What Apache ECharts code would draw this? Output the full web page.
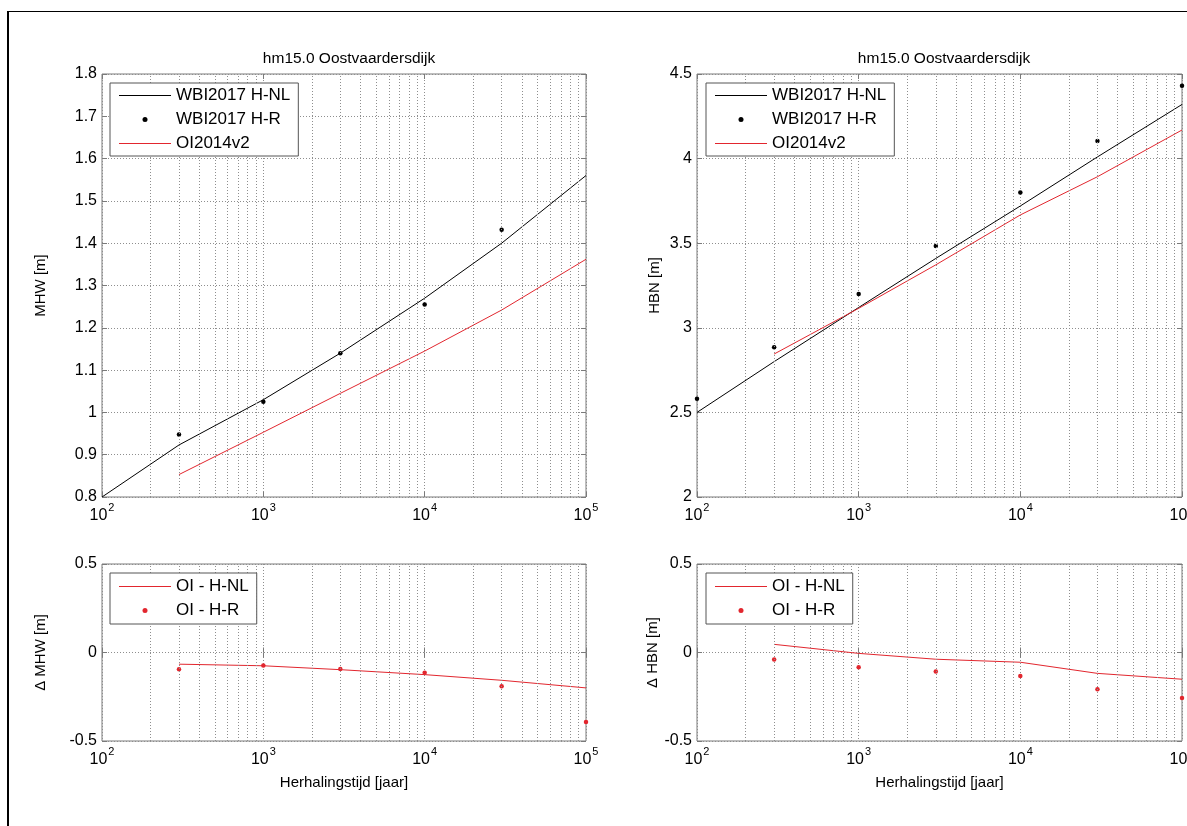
<!DOCTYPE html>
<html>
<head>
<meta charset="utf-8">
<script src="https://cdn.jsdelivr.net/npm/echarts@6/dist/echarts.min.js"></script>
<style>
html,body{margin:0;padding:0;background:#fff;}
#chart{width:1187px;height:826px;}
</style>
</head>
<body>
<div id="chart"></div>
<script>
// ---------- data ----------
const titleText = 'hm15.0 Oostvaardersdijk';
const xAxisName = 'Herhalingstijd [jaar]';
const yNames = ['MHW [m]', 'HBN [m]', '\u0394 MHW [m]', '\u0394 HBN [m]'];
const legendTop = ['WBI2017 H-NL', 'WBI2017 H-R', 'OI2014v2'];
const legendBottom = ['OI - H-NL', 'OI - H-R'];
const minorGridValues = [200,300,400,500,600,700,800,900,2000,3000,4000,5000,6000,7000,8000,9000,20000,30000,40000,50000,60000,70000,80000,90000];

// top-left: MHW
const mhwNlT = [100, 300, 1000, 3000, 10000, 30000, 100000];
const mhwNl  = [0.80, 0.923, 1.03, 1.14, 1.27, 1.40, 1.56];
const mhwRT  = [300, 1000, 3000, 10000, 30000];
const mhwR   = [0.948, 1.025, 1.14, 1.255, 1.432];
const mhwOiT = [300, 1000, 3000, 10000, 30000, 100000];
const mhwOi  = [0.853, 0.953, 1.045, 1.145, 1.242, 1.362];

// top-right: HBN
const hbnNlT = [100, 300, 1000, 3000, 10000, 30000, 100000];
const hbnNl  = [2.50, 2.80, 3.12, 3.41, 3.72, 4.01, 4.32];
const hbnRT  = [100, 300, 1000, 3000, 10000, 30000, 100000];
const hbnR   = [2.58, 2.885, 3.20, 3.483, 3.80, 4.104, 4.431];
const hbnOiT = [300, 1000, 3000, 10000, 30000, 100000];
const hbnOi  = [2.845, 3.115, 3.372, 3.667, 3.893, 4.169];

// bottom-left: delta MHW
const dMhwNlT = [300, 1000, 3000, 10000, 30000, 100000];
const dMhwNl  = [-0.066, -0.075, -0.097, -0.125, -0.157, -0.200];
const dMhwRT  = [300, 1000, 3000, 10000, 30000, 100000];
const dMhwR   = [-0.094, -0.074, -0.093, -0.115, -0.190, -0.393];

// bottom-right: delta HBN
const dHbnNlT = [300, 1000, 3000, 10000, 30000, 100000];
const dHbnNl  = [0.046, -0.005, -0.038, -0.055, -0.118, -0.151];
const dHbnRT  = [300, 1000, 3000, 10000, 30000, 100000];
const dHbnR   = [-0.040, -0.083, -0.108, -0.133, -0.208, -0.257];

const yRanges = [
  {min: 0.8, max: 1.8, interval: 0.1},
  {min: 2, max: 4.5, interval: 0.5},
  {min: -0.5, max: 0.5, interval: 0.5},
  {min: -0.5, max: 0.5, interval: 0.5}
];
// ---------- styling ----------
const FONT = '"Liberation Sans", Arial, Helvetica, sans-serif';
const RED = '#e2262e';
const BLACK = '#000';
const BORDER = '#7a7a7a';
const GRIDC = '#8e8e8e';
const LINE_ICON = 'path://M0,0H52V1.2H0Z';

const grids = [
  {left: 102, top: 74, width: 484, height: 423},
  {left: 697, top: 74, width: 485, height: 423},
  {left: 102, top: 564, width: 484, height: 177},
  {left: 697, top: 564, width: 485, height: 177}
];

function zip(xs, ys){ return xs.map((x, i) => [x, ys[i]]); }

const xAxes = [], yAxes = [];
for (let i = 0; i < 4; i++) {
  xAxes.push({
    type: 'log', logBase: 10, gridIndex: i, min: 100, max: 100000, splitNumber: 3,
    position: 'bottom',
    name: i >= 2 ? xAxisName : '', nameLocation: 'middle', nameGap: 34,
    nameTextStyle: {fontFamily: FONT, fontSize: 15, color: '#000'},
    axisLine: {show: false},
    axisTick: {show: true, inside: true, length: 5, lineStyle: {color: BORDER}},
    axisLabel: {
      margin: 5, hideOverlap: false,
      formatter: v => '{b|10}{s|' + Math.round(Math.log10(v)) + '}',
      rich: {
        b: {fontFamily: FONT, fontSize: 16, color: '#000', verticalAlign: 'bottom'},
        s: {fontFamily: FONT, fontSize: 11, color: '#000', verticalAlign: 'top', padding: [0, 0, 11, 1]}
      }
    },
    splitLine: {show: true, lineStyle: {color: GRIDC, type: [1, 2], width: 1}}
  });
}
for (let i = 0; i < 4; i++) {
  xAxes.push({
    type: 'log', logBase: 10, gridIndex: i, min: 100, max: 100000, splitNumber: 3,
    position: 'top',
    axisLine: {show: false},
    axisTick: {show: true, inside: true, length: 5, lineStyle: {color: BORDER}},
    axisLabel: {show: false},
    splitLine: {show: false}
  });
}
for (let i = 0; i < 4; i++) {
  yAxes.push({
    type: 'value', gridIndex: i, position: 'left',
    min: yRanges[i].min, max: yRanges[i].max, interval: yRanges[i].interval,
    name: yNames[i], nameLocation: 'middle', nameRotate: 90,
    nameGap: (i % 2 === 0) ? 54 : 35,
    nameTextStyle: {fontFamily: FONT, fontSize: 15, color: '#000'},
    axisLine: {show: false},
    axisTick: {show: true, inside: true, length: 5, lineStyle: {color: BORDER}},
    axisLabel: {margin: 5, fontFamily: FONT, fontSize: 16, color: '#000'},
    splitLine: {show: true, lineStyle: {color: GRIDC, type: [1, 2], width: 1}}
  });
}
for (let i = 0; i < 4; i++) {
  yAxes.push({
    type: 'value', gridIndex: i, position: 'right',
    min: yRanges[i].min, max: yRanges[i].max, interval: yRanges[i].interval,
    axisLine: {show: false},
    axisTick: {show: true, inside: true, length: 5, lineStyle: {color: BORDER}},
    axisLabel: {show: false},
    splitLine: {show: false}
  });
}

const series = [];
// minor vertical gridlines (markLine on the log axes)
for (let i = 0; i < 4; i++) {
  series.push({
    type: 'line', name: '_grid' + i, xAxisIndex: i, yAxisIndex: i, data: [], z: 1,
    silent: true, legendHoverLink: false,
    markLine: {
      silent: true, symbol: ['none', 'none'], label: {show: false}, animation: false,
      lineStyle: {color: GRIDC, type: [1, 2], width: 1},
      emphasis: {disabled: true},
      data: minorGridValues.map(v => ({xAxis: v}))
    }
  });
}
function lineS(name, idx, xs, ys, color){
  return {type: 'line', name, xAxisIndex: idx, yAxisIndex: idx, data: zip(xs, ys),
    symbol: 'none', showSymbol: false, lineStyle: {color, width: 1}, itemStyle: {color}, z: 3};
}
function dotS(name, idx, xs, ys, color){
  return {type: 'scatter', name, xAxisIndex: idx, yAxisIndex: idx, data: zip(xs, ys),
    symbol: 'circle', symbolSize: 4.5, itemStyle: {color, opacity: 1}, z: 4};
}
series.push(lineS(legendTop[0], 0, mhwNlT, mhwNl, BLACK));
series.push(dotS(legendTop[1], 0, mhwRT, mhwR, BLACK));
series.push(lineS(legendTop[2], 0, mhwOiT, mhwOi, RED));
series.push(lineS(legendTop[0], 1, hbnNlT, hbnNl, BLACK));
series.push(dotS(legendTop[1], 1, hbnRT, hbnR, BLACK));
series.push(lineS(legendTop[2], 1, hbnOiT, hbnOi, RED));
series.push(lineS(legendBottom[0], 2, dMhwNlT, dMhwNl, RED));
series.push(dotS(legendBottom[1], 2, dMhwRT, dMhwR, RED));
series.push(lineS(legendBottom[0], 3, dHbnNlT, dHbnNl, RED));
series.push(dotS(legendBottom[1], 3, dHbnRT, dHbnR, RED));

function legendAt(left, top, items, pad){
  return {
    left, top, orient: 'vertical', data: items, selectedMode: false,
    itemWidth: 52, itemHeight: 5, itemGap: 7, padding: pad,
    backgroundColor: '#fff', borderColor: '#555', borderWidth: 1, borderRadius: 0,
    textStyle: {fontFamily: FONT, fontSize: 17, color: '#000', lineHeight: 17},
    z: 10
  };
}
const topItems = [
  {name: legendTop[0], icon: LINE_ICON},
  {name: legendTop[1], icon: 'circle', itemStyle: {opacity: 1}},
  {name: legendTop[2], icon: LINE_ICON}
];
const bottomItems = [
  {name: legendBottom[0], icon: LINE_ICON},
  {name: legendBottom[1], icon: 'circle', itemStyle: {opacity: 1}}
];

const option = {
  animation: false,
  backgroundColor: '#fff',
  title: [
    {text: titleText, left: 344, top: 46, textAlign: 'center',
     textStyle: {fontFamily: FONT, fontSize: 15.5, fontWeight: 'normal', color: '#000'}},
    {text: titleText, left: 939, top: 46, textAlign: 'center',
     textStyle: {fontFamily: FONT, fontSize: 15.5, fontWeight: 'normal', color: '#000'}}
  ],
  grid: grids.map(g => Object.assign({show: true, borderColor: BORDER, borderWidth: 1, backgroundColor: 'transparent', containLabel: false, outerBoundsMode: 'none'}, g)),
  xAxis: xAxes,
  yAxis: yAxes,
  legend: [
    legendAt(110, 83, topItems, [4, 8, 4, 9]),
    legendAt(706, 83, topItems, [4, 8, 4, 9]),
    legendAt(110, 573, bottomItems, [5, 8, 5, 9]),
    legendAt(706, 573, bottomItems, [5, 8, 5, 9])
  ],
  graphic: [
    {type: 'line', shape: {x1: 7, y1: 11.5, x2: 1187, y2: 11.5}, style: {stroke: '#000', lineWidth: 1}, silent: true},
    {type: 'line', shape: {x1: 8, y1: 11, x2: 8, y2: 826}, style: {stroke: '#000', lineWidth: 2}, silent: true}
  ],
  series
};
const chart = echarts.init(document.getElementById('chart'), null, {renderer: 'canvas'});
chart.setOption(option);
</script>
</body>
</html>
